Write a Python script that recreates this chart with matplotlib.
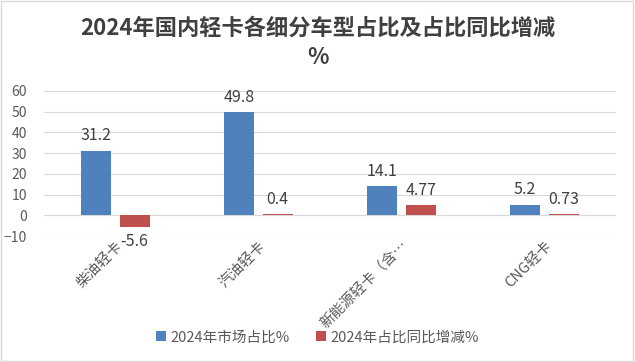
import matplotlib
matplotlib.use('Agg')
import matplotlib.pyplot as plt
import numpy as np

plt.rcParams['font.family'] = ['Noto Sans CJK SC', 'DejaVu Sans']

categories = ['柴油轻卡', '汽油轻卡', '新能源轻卡（含…', 'CNG轻卡']
share = [31.2, 49.8, 14.1, 5.2]
change = [-5.6, 0.4, 4.77, 0.73]
share_labels = ['31.2', '49.8', '14.1', '5.2']
change_labels = ['-5.6', '0.4', '4.77', '0.73']

blue = '#4F81BD'
red = '#C0504D'
txt = '#595959'

fig = plt.figure(figsize=(6.35, 3.62), dpi=100)
ax = fig.add_axes([0.069, 0.348, 0.901, 0.401])

x = np.arange(len(categories))
w = 0.21
off = 0.135
b1 = ax.bar(x - off, share, w, color=blue, label='2024年市场占比%')
b2 = ax.bar(x + off, change, w, color=red, label='2024年占比同比增减%')

# data labels
for xi, v, s in zip(x, share, share_labels):
    ax.text(xi - off, max(v, 0) + 3, s, ha='center', va='bottom', fontsize=11.5, color='#404040')
for xi, v, s in zip(x, change, change_labels):
    if v < 0:
        ax.text(xi + off, v - 3, s, ha='center', va='top', fontsize=11.5, color='#404040')
    else:
        ax.text(xi + off, v + 3, s, ha='center', va='bottom', fontsize=11.5, color='#404040')

ax.set_xlim(-0.5, 3.5)
ax.set_ylim(-10, 60)
ax.set_yticks(range(-10, 61, 10))
ax.tick_params(axis='y', length=0, labelsize=10, labelcolor=txt, pad=12)
ax.tick_params(axis='x', length=0, labelsize=10.5, labelcolor=txt, pad=2)
ax.set_xticks(x)
ax.set_xticklabels(categories, rotation=45, ha='right', rotation_mode='anchor')
ax.grid(axis='y', color='#D9D9D9', linewidth=0.8)
ax.set_axisbelow(True)
for s in ax.spines.values():
    s.set_visible(False)
ax.axhline(0, color='#D9D9D9', linewidth=0.8, zorder=0)

fig.text(0.5, 0.922, '2024年国内轻卡各细分车型占比及占比同比增减', ha='center', va='center',
         fontsize=16, fontweight='bold', color='#404040')
fig.text(0.5, 0.842, '%', ha='center', va='center', fontsize=16, fontweight='bold', color='#404040')

fig.legend(handles=[b1, b2], loc='center', bbox_to_anchor=(0.5, 0.068), ncol=2, frameon=False,
           fontsize=10.5, labelcolor=txt, handlelength=0.7, handleheight=0.7, handletextpad=0.3,
           columnspacing=1.8)

fig.patches.append(plt.Rectangle((0.002, 0.003), 0.995, 0.994, transform=fig.transFigure,
                                 fill=False, edgecolor='#D9D9D9', linewidth=1))

fig.set_facecolor('white')
fig.savefig('out.png', dpi=100)
